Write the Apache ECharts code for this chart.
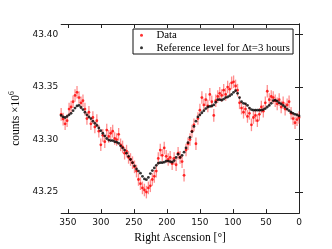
<!DOCTYPE html>
<html><head><meta charset="utf-8">
<script src="https://cdn.jsdelivr.net/npm/echarts@6/dist/echarts.min.js"></script>
<style>html,body{margin:0;padding:0;background:#fff}#c{width:332px;height:249px}</style>
</head><body><div id="c"></div>
<script>
const rightAscension = [360,357,354,351,348,345,342,339,336,333,330,327,324,321,318,315,312,309,306,303,300,297,294,291,288,285,282,279,276,273,270,267,264,261,258,255,252,249,246,243,240,237,234,231,228,225,222,219,216,213,210,207,204,201,198,195,192,189,186,183,180,177,174,171,168,165,162,159,156,153,150,147,144,141,138,135,132,129,126,123,120,117,114,111,108,105,102,99,96,93,90,87,84,81,78,75,72,69,66,63,60,57,54,51,48,45,42,39,36,33,30,27,24,21,18,15,12,9,6,3,0];
const dataCounts = [43.3240,43.3195,43.3150,43.3180,43.3290,43.3310,43.3360,43.3420,43.3450,43.3400,43.3350,43.3370,43.3290,43.3200,43.3260,43.3150,43.3210,43.3120,43.3180,43.3080,43.2950,43.3040,43.2980,43.3090,43.3030,43.3060,43.3080,43.3010,43.3000,43.3050,43.2950,43.2930,43.2870,43.2890,43.2830,43.2810,43.2780,43.2740,43.2700,43.2620,43.2580,43.2540,43.2520,43.2500,43.2540,43.2560,43.2620,43.2650,43.2700,43.2820,43.2900,43.2850,43.2920,43.2840,43.2810,43.2830,43.2770,43.2820,43.2760,43.2870,43.2830,43.2790,43.2660,43.2900,43.2960,43.3000,43.3080,43.3140,43.2960,43.3200,43.3280,43.3400,43.3330,43.3380,43.3320,43.3430,43.3360,43.3230,43.3370,43.3410,43.3440,43.3420,43.3470,43.3430,43.3500,43.3480,43.3540,43.3550,43.3510,43.3470,43.3350,43.3300,43.3260,43.3290,43.3220,43.3250,43.3140,43.3210,43.3230,43.3180,43.3240,43.3310,43.3270,43.3350,43.3460,43.3380,43.3410,43.3400,43.3370,43.3340,43.3380,43.3310,43.3350,43.3290,43.3330,43.3360,43.3250,43.3200,43.3160,43.3190,43.3210];
const referenceLevel = [43.3230,43.3215,43.3210,43.3220,43.3235,43.3250,43.3275,43.3300,43.3320,43.3325,43.3305,43.3285,43.3260,43.3235,43.3215,43.3200,43.3175,43.3155,43.3135,43.3110,43.3085,43.3060,43.3035,43.3010,43.2995,43.2990,43.2990,43.2980,43.2975,43.2965,43.2940,43.2920,43.2900,43.2870,43.2840,43.2810,43.2780,43.2750,43.2720,43.2700,43.2680,43.2650,43.2625,43.2618,43.2640,43.2676,43.2705,43.2730,43.2755,43.2775,43.2780,43.2780,43.2785,43.2795,43.2795,43.2790,43.2785,43.2800,43.2830,43.2860,43.2830,43.2850,43.2880,43.2920,43.2970,43.3020,43.3075,43.3125,43.3175,43.3215,43.3235,43.3255,43.3275,43.3295,43.3310,43.3315,43.3320,43.3330,43.3355,43.3380,43.3380,43.3375,43.3385,43.3400,43.3405,43.3415,43.3430,43.3450,43.3465,43.3440,43.3400,43.3360,43.3345,43.3340,43.3325,43.3300,43.3285,43.3280,43.3280,43.3280,43.3280,43.3280,43.3285,43.3295,43.3310,43.3325,43.3345,43.3370,43.3375,43.3365,43.3350,43.3340,43.3325,43.3310,43.3290,43.3275,43.3260,43.3250,43.3240,43.3235,43.3225];
const dataError = 0.006;
const xTicks = [0,50,100,150,200,250,300,350];
const yTicks = [43.25,43.30,43.35,43.40];

const errPts = rightAscension.map((r,i)=>[r, dataCounts[i], dataError]);
const dataPts = rightAscension.map((r,i)=>[r, dataCounts[i]]);
const refPts = rightAscension.map((r,i)=>[r, referenceLevel[i]]);

const chart = echarts.init(document.getElementById('c'), null, {renderer:'canvas'});
const axLine = {show:true, lineStyle:{color:'#222', width:1}};
const tickStyle = {show:true, inside:true, length:4, lineStyle:{color:'#222', width:1}};
const tickFont = {fontFamily:'DejaVu Sans', fontSize:9, color:'#111'};
chart.setOption({
  animation:false,
  backgroundColor:'#fff',
  grid:{left:41, right:33, top:24, bottom:26, containLabel:false},
  legend:{
    left:133, top:29, orient:'vertical',
    data:['Data','Reference level for \u0394t=3 hours'],
    icon:'circle', itemWidth:20, itemHeight:3, itemGap:0,
    padding:[0,3,0,7],
    borderColor:'#111', borderWidth:1, backgroundColor:'#fff',
    textStyle:{fontFamily:'Liberation Serif', fontSize:10.8, color:'#000', lineHeight:12.5}
  },
  xAxis:[{
    type:'value', min:0, max:360, inverse:true, position:'bottom',
    axisLine:axLine, axisTick:Object.assign({customValues:xTicks}, tickStyle),
    axisLabel:Object.assign({customValues:xTicks, margin:5}, tickFont),
    splitLine:{show:false},
    name:'Right Ascension [\u00b0]', nameLocation:'middle', nameGap:18,
    nameTextStyle:{fontFamily:'Liberation Serif', fontSize:11.5, color:'#000'}
  },{
    type:'value', min:0, max:360, inverse:true, position:'top',
    axisLine:axLine, axisTick:Object.assign({customValues:xTicks}, tickStyle),
    axisLabel:{show:false}, splitLine:{show:false}
  }],
  yAxis:[{
    type:'value', min:43.23, max:43.41, position:'left',
    axisLine:axLine, axisTick:Object.assign({customValues:yTicks}, tickStyle),
    axisLabel:Object.assign({customValues:yTicks, margin:3, formatter:v=>v.toFixed(2)}, tickFont),
    splitLine:{show:false},
    name:'{a|counts \u00d710}{b|6}', nameLocation:'middle', nameGap:32, nameRotate:90,
    nameTextStyle:{fontFamily:'Liberation Serif', fontSize:11.5, color:'#000',
      rich:{a:{fontFamily:'Liberation Serif', fontSize:11.5, color:'#000'},
            b:{fontFamily:'Liberation Serif', fontSize:7.5, color:'#000', padding:[0,0,7,0]}}}
  },{
    type:'value', min:43.23, max:43.41, position:'right',
    axisLine:axLine, axisTick:Object.assign({customValues:yTicks}, tickStyle),
    axisLabel:{show:false}, splitLine:{show:false}
  }],
  series:[{
    type:'custom', name:'errbars', xAxisIndex:0, yAxisIndex:0, silent:true,
    data:errPts, encode:{x:0,y:1},
    renderItem:function(params, api){
      const x=api.value(0), y=api.value(1), e=api.value(2);
      const p1=api.coord([x,y-e]), p2=api.coord([x,y+e]);
      return {type:'line', shape:{x1:p1[0],y1:p1[1],x2:p2[0],y2:p2[1]},
        style:{stroke:'rgba(255,30,30,0.5)', lineWidth:1.3}};
    },
    z:1
  },{
    type:'scatter', name:'Data', xAxisIndex:0, yAxisIndex:0,
    data:dataPts, symbol:'circle', symbolSize:2.8,
    itemStyle:{color:'#ff0000'}, z:2
  },{
    type:'scatter', name:'Reference level for \u0394t=3 hours', xAxisIndex:0, yAxisIndex:0,
    data:refPts, symbol:'circle', symbolSize:2.8,
    itemStyle:{color:'#000000'}, z:3
  }]
});
</script></body></html>
